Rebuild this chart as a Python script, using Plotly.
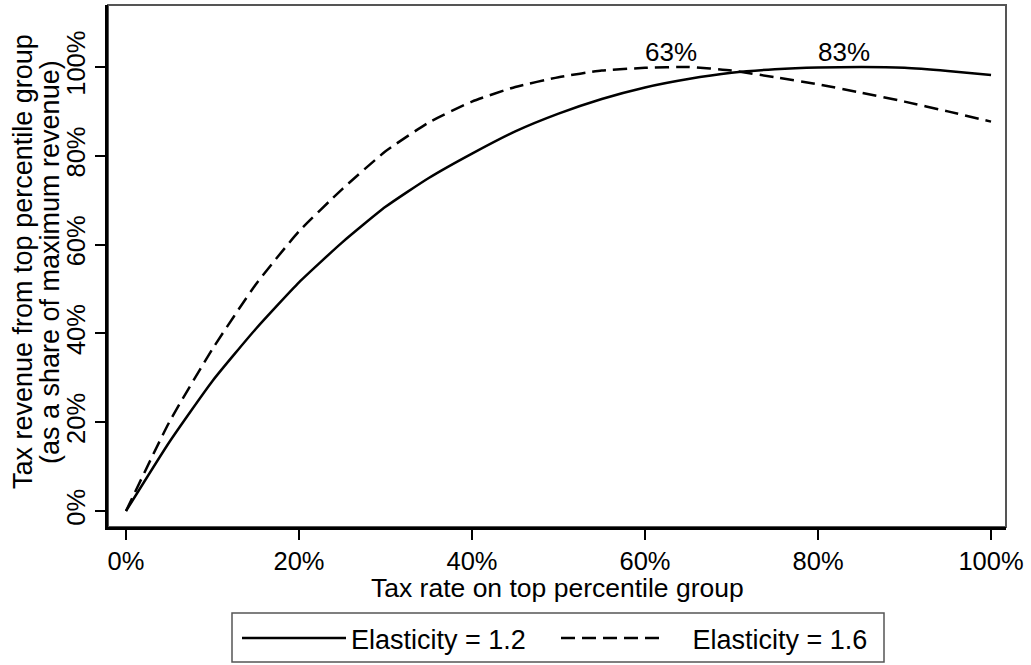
import plotly.graph_objects as go

tax_rate = [0.00, 0.05, 0.10, 0.15, 0.20, 0.25, 0.30, 0.35, 0.40, 0.45, 0.50,
            0.55, 0.60, 0.65, 0.70, 0.75, 0.80, 0.85, 0.90, 0.95, 1.00]
revenue_e12 = [0.000, 0.155, 0.293, 0.410, 0.515, 0.605, 0.685, 0.750, 0.805, 0.855, 0.895,
               0.928, 0.954, 0.973, 0.987, 0.995, 0.999, 1.000, 0.998, 0.991, 0.982]
revenue_e16 = [0.000, 0.200, 0.365, 0.510, 0.630, 0.725, 0.810, 0.875, 0.922, 0.955, 0.977,
               0.992, 0.998, 1.000, 0.992, 0.977, 0.961, 0.942, 0.922, 0.900, 0.877]
series_names = ["Elasticity = 1.2", "\u00a0\u00a0\u00a0Elasticity = 1.6"]
peak_rates = [0.63, 0.83]
peak_labels = ["63%", "83%"]
tick_vals = [0, 0.2, 0.4, 0.6, 0.8, 1.0]
tick_text = ["0%", "20%", "40%", "60%", "80%", "100%"]
x_title = "Tax rate on top percentile group"
y_title_lines = ["Tax revenue from top percentile group", "(as a share of maximum revenue)"]

FONT = "Arial, Liberation Sans, sans-serif"
FS_TICK = 25.5
FS_TEXT = 27

# plot area in pixels: x 108..1006, y 5..527
PL, PR, PT, PB = 108, 1006, 5, 527
W, H = 1031, 665
def px_x(p):
    return (p - PL) / (PR - PL)
def px_y(p):
    return (PB - p) / (PB - PT)

fig = go.Figure()
fig.add_trace(go.Scatter(x=tax_rate, y=revenue_e12, mode="lines", name=series_names[0],
                         line=dict(color="black", width=2.5, shape="spline", smoothing=0.5)))
fig.add_trace(go.Scatter(x=tax_rate, y=revenue_e16, mode="lines", name=series_names[1],
                         line=dict(color="black", width=2.5, dash="14px,7px",
                                   shape="spline", smoothing=0.5)))

for r, lab in zip(peak_rates, peak_labels):
    fig.add_annotation(x=r, y=1.0, text=lab, showarrow=False, yanchor="bottom",
                       yshift=-2, font=dict(family=FONT, size=26, color="black"))

# axis titles
fig.add_annotation(xref="paper", yref="paper", x=px_x(557), y=px_y(588), text=x_title,
                   showarrow=False, xanchor="center", yanchor="middle",
                   font=dict(family=FONT, size=26.5, color="black"))
for xp, line in zip([23, 50], y_title_lines):
    fig.add_annotation(xref="paper", yref="paper", x=px_x(xp), y=px_y(262), text=line,
                       showarrow=False, xanchor="center", yanchor="middle", textangle=-90,
                       font=dict(family=FONT, size=FS_TEXT, color="black"))

# plot frame
fig.add_shape(type="rect", xref="paper", yref="paper", x0=0, y0=0, x1=1, y1=1,
              line=dict(color="#555555", width=2), layer="below")
# legend frame
fig.add_shape(type="rect", xref="paper", yref="paper",
              x0=px_x(232), x1=px_x(884), y0=px_y(613), y1=px_y(662),
              line=dict(color="#555555", width=1.5), layer="above")

fig.update_layout(
    width=W, height=H,
    paper_bgcolor="white", plot_bgcolor="white",
    margin=dict(l=PL, r=W - PR, t=PT, b=H - PB, autoexpand=False),
    font=dict(family=FONT, size=FS_TICK, color="black"),
    showlegend=True,
    legend=dict(orientation="h", x=px_x(237), xanchor="left", y=px_y(614), yanchor="top",
                borderwidth=0, bgcolor="rgba(0,0,0,0)",
                font=dict(family=FONT, size=FS_TEXT, color="black"),
                itemwidth=104, entrywidth=200, tracegroupgap=0),
    xaxis=dict(range=[-0.0208, 1.0173], tickvals=tick_vals, ticktext=tick_text,
               ticks="outside", ticklen=10, tickwidth=1.5, tickcolor="black",
               showline=True, linecolor="black", linewidth=2.5, mirror=False,
               showgrid=False, zeroline=False, automargin=False,
               tickfont=dict(size=FS_TICK)),
    yaxis=dict(range=[-0.036, 1.1396], tickvals=tick_vals, ticktext=tick_text,
               ticks="outside", ticklen=10, tickwidth=1.5, tickcolor="black",
               tickangle=-90, automargin=False,
               showline=True, linecolor="black", linewidth=2.5, mirror=False,
               showgrid=False, zeroline=False,
               tickfont=dict(size=FS_TICK)),
)

fig.write_html("out.html", config={"displayModeBar": False},
               post_script="document.body.style.margin='0';document.body.style.overflow='hidden';")
